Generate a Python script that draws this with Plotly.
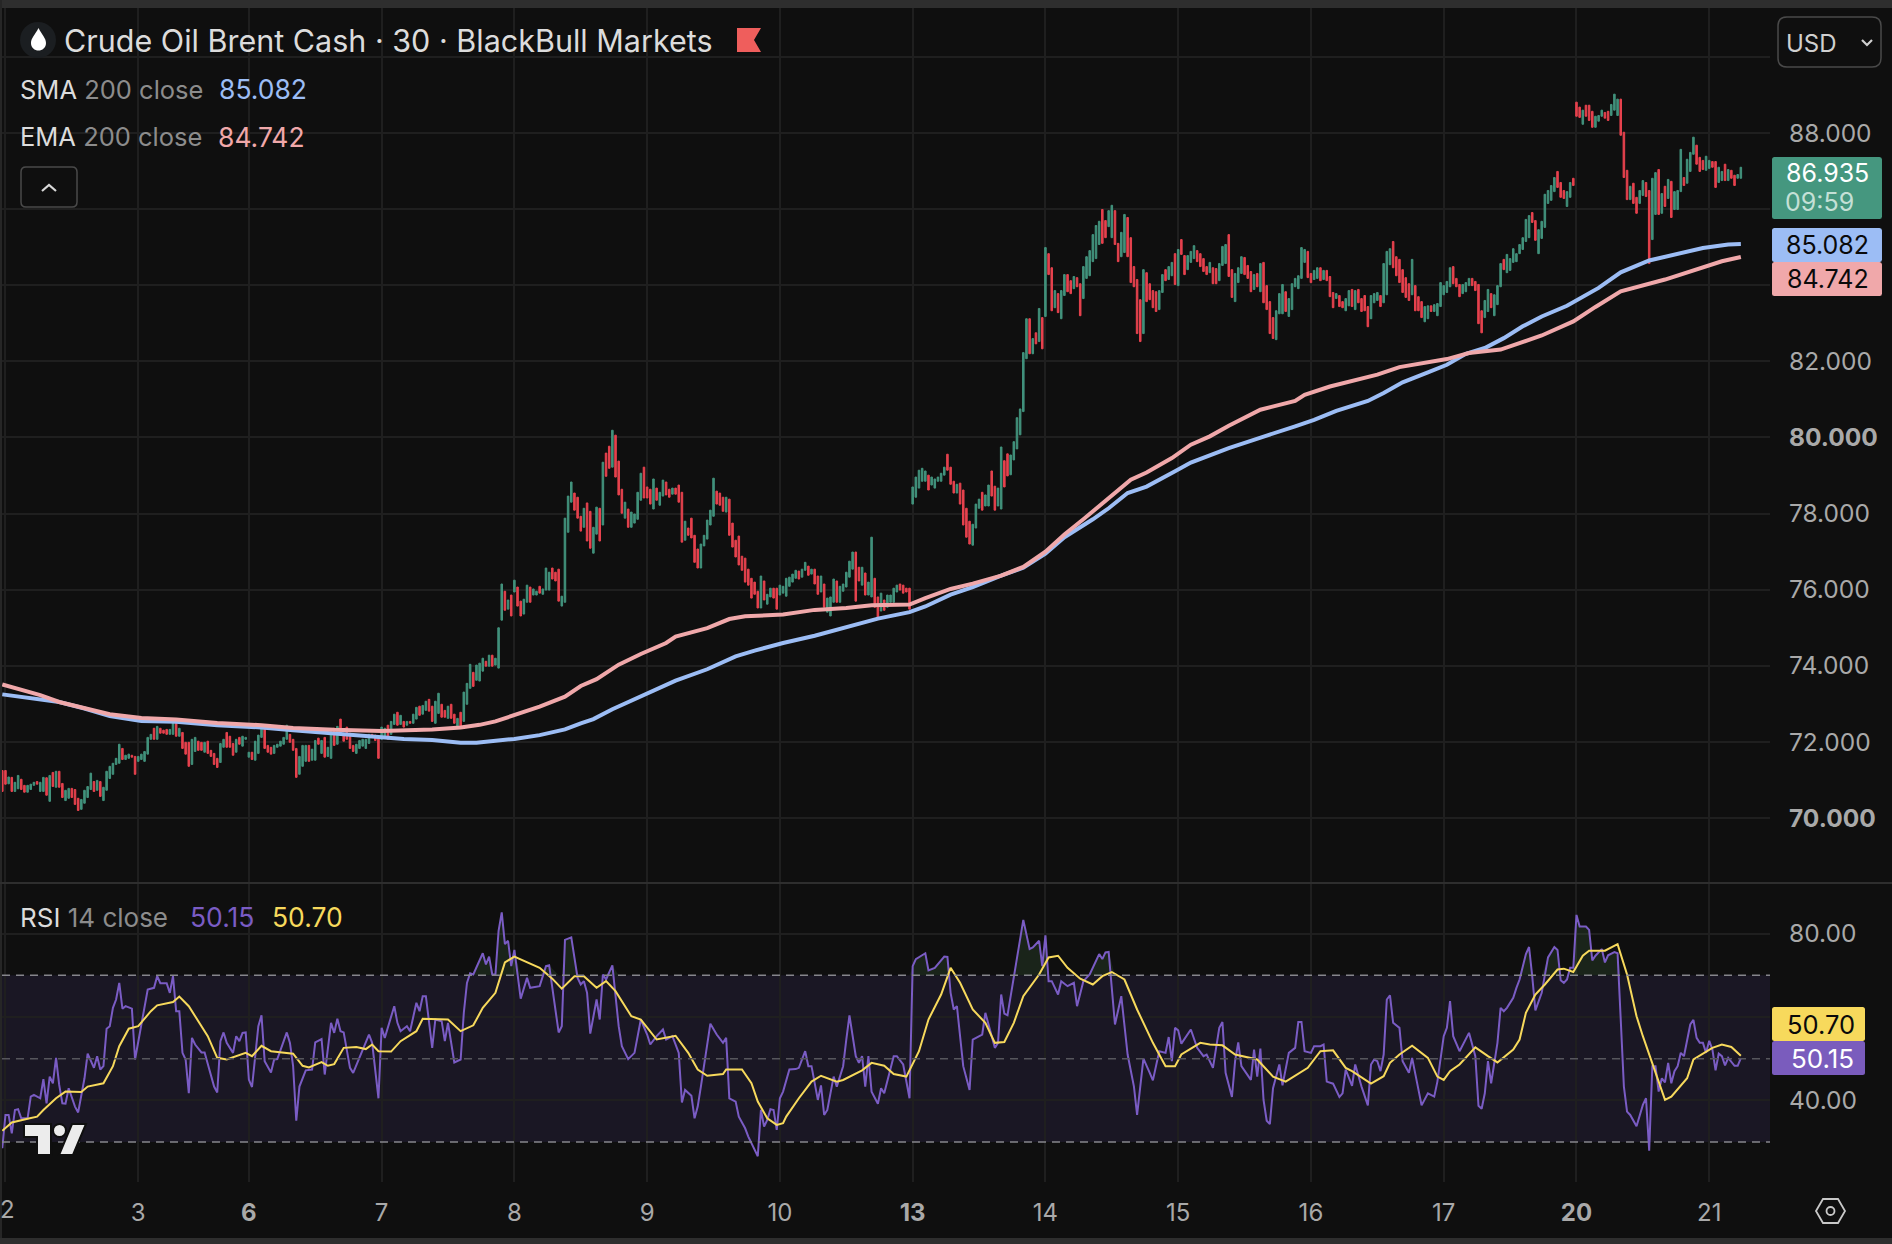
import plotly.graph_objects as go

# 30-minute Brent bars, oldest first: bar high, bar low and direction (g = up, r = down)
bar_high = [
 71.25,71.25,71.08,71.07,70.94,71.12,71.02,70.86,70.86,70.89,
 70.94,70.96,70.94,71.07,71.06,71.12,71.20,71.23,71.23,70.91,
 70.73,70.78,70.78,70.75,70.52,70.49,70.73,70.83,71.18,70.96,
 70.99,70.96,70.81,71.23,71.36,71.44,71.57,71.94,71.83,71.65,
 71.68,71.65,71.62,71.62,71.68,71.75,72.12,72.20,72.36,72.41,
 72.36,72.31,72.33,72.33,72.49,72.49,72.36,72.25,71.99,71.99,
 72.07,72.12,72.02,71.99,71.99,72.02,71.78,71.70,71.57,71.96,
 72.07,72.25,72.15,71.96,72.07,72.12,72.15,72.12,71.73,71.73,
 72.02,72.18,72.44,72.36,71.91,71.86,71.91,71.94,72.02,72.12,
 72.44,72.20,72.07,71.83,71.62,71.91,71.91,71.91,71.81,72.04,
 72.10,72.04,72.12,71.86,72.28,72.36,72.41,72.60,72.23,72.39,
 72.23,71.91,71.94,72.04,72.07,72.07,72.20,72.20,72.18,72.15,
 72.39,72.36,72.44,72.54,72.73,72.78,72.70,72.54,72.54,72.54,
 72.73,72.91,72.94,72.96,73.07,73.12,72.94,73.07,73.28,72.99,
 72.83,72.94,72.99,72.73,72.62,72.78,73.31,73.54,74.04,73.83,
 74.02,74.07,74.20,74.12,74.28,74.28,74.20,75.00,
 76.15,75.96,75.73,75.86,76.25,76.07,75.70,75.75,76.12,76.07,
 76.02,75.96,76.09,76.02,76.57,76.46,76.57,76.46,76.54,75.83,
 77.88,78.46,78.83,78.54,78.43,77.93,78.14,78.28,78.06,77.64,
 78.17,78.14,79.35,79.59,79.77,80.19,80.06,79.38,78.64,78.30,
 78.12,78.04,77.99,78.56,79.06,79.22,78.70,78.64,78.91,78.67,
 78.56,78.88,78.83,78.64,78.67,78.67,78.75,78.56,77.80,77.62,
 77.88,77.43,77.07,77.20,77.43,77.83,78.09,78.93,78.59,78.54,
 78.43,78.43,78.38,77.75,77.30,77.41,76.88,76.83,76.54,76.30,
 76.20,75.96,76.36,76.23,75.88,76.04,76.04,76.04,76.12,76.09,
 76.30,76.33,76.41,76.51,76.49,76.54,76.72,76.62,76.54,76.54,
 76.36,76.36,76.15,75.78,75.81,76.28,76.23,76.09,76.15,76.46,
 76.75,76.99,76.99,76.59,76.59,76.44,76.20,77.38,76.30,75.81,
 75.91,75.73,75.86,75.86,76.04,76.12,76.15,76.12,76.04,76.04,
 78.70,78.96,79.14,79.19,79.12,79.01,78.96,78.91,78.96,79.06,
 79.22,79.56,79.22,78.85,78.77,78.80,78.62,78.14,77.80,77.72,
 78.25,78.38,78.56,78.49,78.75,79.12,78.72,78.67,
 79.75,79.39,79.57,79.54,79.89,80.52,80.75,82.23,83.12,83.12,
 82.60,82.75,83.39,83.15,
 84.99,84.83,84.46,83.86,83.78,83.86,84.28,84.28,84.12,84.23,
 84.20,84.04,84.49,84.75,84.91,85.33,85.57,85.68,85.99,85.70,
 85.96,86.10,85.96,85.10,85.39,85.86,85.78,85.25,84.49,84.15,
 83.62,84.41,84.33,84.04,83.86,83.83,83.86,84.28,84.41,84.49,
 84.60,84.83,84.94,85.20,84.78,84.78,84.89,85.04,84.91,84.83,
 84.70,84.49,84.60,84.46,84.44,84.57,85.02,85.07,85.33,84.41,
 84.31,84.46,84.75,84.73,84.52,84.36,84.28,84.31,84.57,84.60,
 83.99,83.57,83.15,83.33,83.78,84.02,83.83,83.65,84.04,84.18,
 84.25,84.99,84.94,84.89,84.31,84.39,84.46,84.46,84.39,84.39,
 84.23,83.81,83.78,83.73,83.57,83.65,83.86,83.89,83.86,83.89,
 83.65,83.73,83.44,83.73,83.78,83.81,83.73,84.57,84.89,84.96,
 85.15,84.75,84.68,
 84.41,84.20,84.04,84.68,83.99,83.70,83.57,83.44,83.46,83.46,
 83.49,83.52,84.07,83.99,84.10,84.46,84.49,84.18,84.02,84.02,
 84.07,84.18,84.18,84.10,84.02,83.33,83.60,83.89,83.78,83.75,
 83.99,84.57,84.68,84.81,84.70,84.96,
 84.83,85.07,85.25,85.73,85.83,85.91,85.70,85.46,85.68,86.39,
 86.49,86.62,86.83,86.99,86.70,86.49,86.46,86.70,86.81,
 88.81,88.68,88.60,88.73,88.73,88.57,88.44,88.46,88.60,88.54,
 88.57,88.75,89.02,88.89,88.89,88.02,87.02,86.60,86.68,86.31,
 86.49,86.75,86.70,86.49,86.81,86.96,87.04,86.41,86.60,86.78,
 86.73,86.46,86.49,87.57,86.83,87.31,87.49,87.89,87.68,87.36,
 87.28,87.39,87.28,87.25,87.25,87.10,86.99,87.18,87.04,87.02,
 86.89,86.91,87.10,
]
bar_low = [
 70.70,70.89,70.90,70.70,70.70,70.77,70.75,70.68,70.68,70.75,
 70.86,70.89,70.70,70.70,70.60,70.44,70.83,70.81,70.81,70.54,
 70.46,70.52,70.54,70.36,70.20,70.23,70.39,70.54,70.75,70.70,
 70.73,70.57,70.46,70.73,71.04,71.15,71.41,71.44,71.54,71.54,
 71.57,71.60,71.15,71.49,71.54,71.49,71.68,72.07,72.07,72.07,
 72.23,72.23,72.20,72.20,72.20,72.15,72.15,71.83,71.68,71.36,
 71.41,71.75,71.78,71.78,71.73,71.70,71.62,71.41,71.33,71.46,
 71.86,71.86,71.86,71.65,71.73,71.94,71.89,72.07,71.60,71.54,
 71.52,71.70,72.12,71.83,71.73,71.68,71.70,71.86,71.89,71.94,
 72.07,71.99,71.78,71.07,71.15,71.36,71.49,71.49,71.52,71.52,
 71.94,71.70,71.60,71.62,71.57,71.91,71.94,72.20,72.02,72.07,
 71.83,71.75,71.70,71.83,71.89,71.83,71.96,72.12,72.04,71.57,
 72.07,72.15,72.07,72.20,72.46,72.44,72.46,72.39,72.44,72.49,
 72.49,72.60,72.70,72.73,72.83,72.81,72.54,72.49,72.75,72.65,
 72.65,72.62,72.62,72.49,72.41,72.41,72.54,72.99,73.41,73.46,
 73.62,73.60,73.86,73.99,73.99,73.99,74.02,73.94,
 75.20,75.46,75.49,75.31,75.94,75.57,75.31,75.36,75.67,75.67,
 75.86,75.86,75.91,75.88,75.99,75.99,76.28,76.23,75.70,75.57,
 75.67,77.51,78.30,78.09,77.88,77.54,77.64,77.28,77.09,76.96,
 77.46,77.28,77.70,78.98,79.19,79.22,78.96,78.49,78.01,77.88,
 77.64,77.64,77.75,77.85,78.35,78.41,78.41,78.25,78.12,78.35,
 78.22,78.46,78.49,78.43,78.51,78.51,78.30,77.25,77.30,77.43,
 77.36,76.72,76.57,76.57,77.15,77.33,77.70,77.93,78.25,78.22,
 78.06,78.04,77.43,77.12,76.86,76.65,76.51,76.20,76.12,75.78,
 75.88,75.52,75.52,75.73,75.62,75.81,75.78,75.49,75.86,75.91,
 75.83,76.09,76.20,76.30,76.28,76.33,76.51,76.38,76.41,76.15,
 75.88,75.94,75.54,75.41,75.31,75.67,75.67,75.67,75.96,76.07,
 76.33,76.54,75.70,76.23,76.12,75.86,75.86,75.81,75.54,75.23,
 75.44,75.46,75.54,75.67,75.67,75.94,75.99,75.91,75.94,75.49,
 78.25,78.43,78.67,78.85,78.85,78.62,78.75,78.67,78.85,78.85,
 79.01,79.14,78.77,78.54,78.54,78.25,77.70,77.38,77.20,77.17,
 77.62,78.14,78.09,78.20,78.20,78.46,78.09,78.20,
 78.12,78.70,78.99,79.02,79.41,79.70,80.07,80.68,82.07,82.20,
 82.20,82.46,82.52,82.33,
 83.18,84.28,83.33,83.41,83.28,83.12,83.73,83.83,83.78,83.91,
 83.96,83.20,83.65,84.18,84.25,84.62,84.70,85.07,85.10,85.25,
 85.54,85.25,85.07,84.62,84.75,84.86,84.75,84.07,83.96,82.73,
 82.52,82.73,83.57,83.62,83.41,83.31,83.36,83.81,84.12,84.15,
 84.25,84.02,83.99,84.81,84.28,84.41,84.60,84.70,84.62,84.49,
 84.36,84.28,84.33,84.04,84.04,84.12,84.52,84.57,84.23,83.68,
 83.57,84.07,84.31,84.28,84.18,83.83,83.89,83.96,83.83,83.54,
 83.36,82.73,82.60,82.57,83.25,83.25,83.31,83.18,83.36,83.96,
 83.91,84.18,84.60,84.20,84.07,84.15,84.18,84.12,84.15,84.12,
 83.70,83.41,83.65,83.44,83.41,83.33,83.46,83.44,83.36,83.54,
 83.31,83.33,82.91,83.12,83.54,83.60,83.44,83.54,83.75,84.54,
 84.46,84.25,84.07,
 83.81,83.68,83.60,83.75,83.33,83.33,83.15,83.04,83.12,83.31,
 83.31,83.20,83.44,83.75,83.81,83.96,84.04,83.96,83.70,83.78,
 83.83,83.99,83.99,83.86,82.99,82.75,83.15,83.31,83.41,83.20,
 83.49,83.96,84.41,84.33,84.39,84.60,
 84.62,84.83,84.94,85.15,85.25,85.65,85.18,84.83,85.23,85.52,
 86.15,86.23,86.46,86.57,86.31,86.28,86.07,86.31,86.62,
 88.44,88.41,88.23,88.44,88.33,88.15,88.15,88.31,88.44,88.39,
 88.33,88.46,88.60,88.46,87.94,86.83,86.25,86.25,86.15,85.89,
 86.15,86.36,86.33,84.57,85.20,85.86,85.86,85.89,86.07,86.28,
 85.78,85.99,85.99,86.46,86.62,86.68,86.99,87.44,87.18,86.99,
 87.04,87.02,87.07,87.10,86.57,86.70,86.75,86.75,86.75,86.81,
 86.62,86.81,86.81,
]
bar_dir = "".join([
 "rrgrggrrgg","grggrgrgrr","ggrrrggggr","grggggggrg","grrgggggrg",
 "rrrggrgrrr","ggrrgrrrrg","grrrgrgggr","gggrrrgggg","grrrgggrgg",
 "rgrggrgrrr","rrgggggrrr","ggrggrgrgr","ggrggrrggr","rgrrgrgggr","gggrgrgg",
 "grgrgrrggr","ggrgggrrrg","gggrrrgrrg","grgrrgrrrg","rggggrrrgr",
 "ggrrgrrrgr","rrrgggggrr","rgrrrrrrrr","rrgrggrrgg","ggggrggrgr",
 "rgrgggrggg","ggrrgrggrr","grggggrrrr","gggggrgggg","grrrgrrrrg","ggrggrrg",
 "grrggggggr","grgr",
 "grrgrggrrg","rrggggggrr","ggrrggrrrr","rgrrrrggrg","grgrrgggrr",
 "rrgrrgggrr","gggrrrgrgr","rrrgggrggg","gggrrggrgr","rrgrrggrgr",
 "rrrgggrggg","rrr",
 "rrrgrrrggr","ggggggrrrg","ggrrrrggrg","ggrggg",
 "gggggrrggg","gggrrrggr",
 "rrgrrrgggr","rgggrrrgrr","ggrrggrgrg","rgggrgggrr","rggrrggrgr","rgg",
])

# Trading-day boundaries on the time axis: bar number, label, bold for week starts
tick_bars = [1, 43, 78, 120, 162, 204, 246, 288, 330, 372, 414, 456, 498, 540]
tick_days = ["", "3", "<b>6</b>", "7", "8", "9", "10", "<b>13</b>", "14", "15", "16", "17", "<b>20</b>", "21"]

# Price scale and the labelled levels on it
price_levels = [70, 72, 74, 76, 78, 80, 82, 84, 86, 88, 90]
price_labels = ["<b>70.000</b>", "72.000", "74.000", "76.000", "78.000", "<b>80.000</b>", "82.000", "", "", "88.000", ""]

# Moving averages of the close: bar number and price
sma_bar = [0,10,18,26,34,44,55,68,82,92,105,120,127,136,145,150,156,162,170,178,183,187,193,199,207,213,223,232,238,247,257,270,277,287,292,300,307,316,
           323,330,336,345,350,356,362,371,376,388,395,400,409,415,422,432,437,443,451,457,463,469,475,481,487,495,505,512,521,530,538,546,550]
sma_val = [73.25,73.14,73.05,72.88,72.68,72.55,72.53,72.44,72.38,72.31,72.22,72.11,72.08,72.05,71.98,71.98,72.02,72.08,72.18,72.33,72.49,72.60,72.86,73.08,73.37,73.61,73.91,74.25,74.40,74.60,74.79,75.08,75.24,75.41,75.56,75.87,76.07,76.37,
           76.58,76.95,77.38,77.85,78.14,78.54,78.71,79.11,79.34,79.72,79.92,80.05,80.29,80.46,80.70,80.96,81.17,81.45,81.71,81.91,82.20,82.35,82.61,82.92,83.18,83.46,83.93,84.34,84.65,84.83,84.98,85.07,85.082]
ema_bar = [0,6,12,18,26,34,44,55,68,82,92,105,120,127,136,145,151,156,162,170,178,183,188,195,202,210,213,223,230,235,247,257,267,275,287,292,300,307,316,
           323,330,336,342,349,357,362,370,376,382,388,398,409,412,420,435,442,449,457,464,474,487,497,504,512,526,535,544,550]
ema_val = [73.51,73.36,73.23,73.05,72.88,72.73,72.63,72.59,72.50,72.44,72.37,72.32,72.29,72.30,72.33,72.38,72.45,72.54,72.71,72.93,73.19,73.47,73.65,74.03,74.31,74.60,74.77,74.99,75.23,75.30,75.35,75.47,75.52,75.59,75.61,75.78,76.02,76.16,76.37,
           76.60,77.00,77.45,77.85,78.32,78.89,79.08,79.46,79.81,80.03,80.31,80.73,80.96,81.12,81.34,81.65,81.85,81.96,82.06,82.22,82.31,82.68,83.05,83.43,83.84,84.15,84.39,84.63,84.742]

# RSI(14): turning points of the line, bar number and value
rsi_bar = [
 0,1,2,3,4,5,6,8,9,10,12,13,14,15,16,17,18,19,20,21,23,24,26,27,29,30,31,32,33,34,35,36,37,38,39,41,42,44,46,48,49,50,52,53,54,55,56,57,58,59,
 60,61,63,64,66,67,68,69,70,71,72,73,74,75,76,77,78,79,81,82,83,85,86,87,90,91,92,93,94,96,98,99,101,102,104,105,106,107,108,110,111,116,117,119,120,121,124,125,126,128,
 129,131,132,133,134,136,137,139,140,141,143,145,146,147,148,149,152,153,154,155,156,157,158,159,160,161,162,164,166,167,170,172,173,176,177,178,180,182,183,184,185,186,188,189,190,191,193,195,196,198,
 200,202,204,205,207,209,210,212,214,215,216,218,219,220,221,222,224,226,228,229,230,232,233,235,236,239,240,241,242,243,244,245,246,247,248,249,251,252,254,255,256,258,259,260,261,263,264,266,267,268,
 270,271,272,273,274,275,277,278,279,282,283,285,287,288,289,292,293,295,298,299,300,301,302,304,306,307,310,311,314,315,316,317,318,319,320,321,323,325,326,328,329,330,331,332,334,335,337,339,340,342,
 344,347,348,349,350,352,354,356,358,359,361,363,364,366,368,369,370,371,372,373,376,378,380,381,383,385,386,387,389,390,391,392,395,396,397,398,399,400,401,402,404,405,407,409,410,411,412,414,415,417,
 418,419,421,423,424,425,427,428,430,432,433,434,435,436,437,438,439,440,442,443,445,446,448,449,451,453,454,456,457,458,459,461,464,466,467,468,469,470,471,473,474,475,476,478,479,480,482,483,484,485,
 487,489,491,492,493,494,495,496,497,498,499,501,502,503,504,506,507,508,510,511,512,513,514,515,517,519,520,521,522,523,524,525,526,527,528,529,530,531,532,534,535,536,537,538,539,540,541,542,543,544,545,546,548,549,550,
]
rsi_val = [
 28.5,36.5,36.5,32.1,37.7,37.9,35.7,35.7,40.9,41.3,40.5,45.1,39.3,45.7,44.1,50.2,43.7,39.3,39.2,42.9,38.5,37.1,45.3,51.2,47.8,50.6,47.4,48.2,57.2,57.8,62.2,64.2,68.2,62.0,62.6,62.0,49.8,58.6,66.6,67.0,69.8,68.1,68.1,65.8,69.8,61.4,61.4,51.4,49.8,41.7,
 55.0,53.4,51.5,51.5,45.7,43.3,41.9,54.2,56.3,53.8,52.6,51.4,55.4,54.2,56.2,56.3,45.0,43.2,57.8,60.4,49.4,46.7,49.8,49.9,56.3,53.8,48.2,35.1,43.3,47.2,47.4,53.9,54.7,46.2,58.6,56.2,59.6,56.6,56.3,47.8,46.6,55.8,53.8,40.5,57.4,55.0,62.6,58.6,56.6,57.8,
 56.6,63.4,61.4,65.0,65.0,52.6,59.4,59.0,54.2,58.6,49.1,49.8,61.0,68.2,70.5,70.2,75.3,72.6,74.5,70.2,70.2,80.7,85.1,77.5,78.3,72.2,76.1,64.4,69.4,67.0,67.4,72.2,72.4,56.3,57.8,78.5,79.1,69.4,67.8,68.6,65.8,56.0,64.2,59.4,70.2,69.0,72.4,57.8,53.0,49.9,
 51.4,59.4,55.8,53.4,55.4,57.0,54.6,55.4,51.4,39.5,42.5,41.1,35.7,38.5,43.3,48.2,58.4,55.8,53.8,55.0,40.5,39.7,36.1,33.3,31.3,26.6,37.7,33.7,35.3,37.9,37.7,32.9,40.5,42.1,44.5,47.4,47.5,47.8,51.8,48.2,48.2,40.1,43.6,36.5,37.7,45.7,43.3,48.2,54.6,60.4,
 50.6,49.0,50.6,43.3,50.6,42.1,39.2,42.9,41.7,50.6,50.6,48.6,40.5,72.2,73.9,75.3,71.2,71.8,74.5,74.4,65.8,61.8,62.6,48.2,42.5,54.6,55.8,61.0,52.6,53.8,65.4,60.8,60.4,65.0,69.0,74.7,83.3,76.3,76.7,78.3,72.2,79.6,68.6,68.6,65.4,68.6,67.4,68.2,62.6,68.6,
 70.2,75.1,73.9,75.5,75.6,58.2,65.0,51.0,43.3,36.5,50.0,46.6,44.8,51.8,51.4,55.2,49.4,57.4,56.8,53.6,57.0,52.6,50.6,51.0,47.8,57.4,58.8,46.6,40.8,49.4,53.9,48.2,44.9,52.2,45.7,52.4,40.1,35.1,34.3,42.9,48.6,43.6,51.4,52.6,58.8,58.8,51.8,51.4,53.0,53.0,
 53.4,44.5,44.0,40.8,41.7,47.4,43.5,48.6,43.3,38.8,48.6,49.8,49.4,47.0,51.0,64.2,65.2,58.6,57.4,49.4,46.6,50.2,42.1,38.8,41.7,40.9,44.5,55.4,57.4,63.8,55.4,51.8,56.2,50.6,38.7,38.0,41.7,49.4,44.1,53.8,62.2,61.4,62.2,64.6,67.0,69.0,75.1,76.8,69.8,61.6,
 65.8,74.3,76.8,76.1,68.8,68.2,69.0,71.8,71.8,84.5,81.7,81.7,80.9,73.6,74.7,76.3,73.1,74.8,75.6,75.3,59.4,43.3,37.3,36.5,33.8,38.9,40.5,27.9,48.2,48.2,42.1,45.3,44.3,49.0,44.1,47.0,48.2,51.4,50.6,58.2,59.3,55.0,53.8,53.8,51.4,54.3,52.2,47.2,51.2,50.6,48.4,50.2,48.3,48.3,50.15,
]

# 14-bar average of the RSI: turning points of the line
rsima_bar = [
 0,3,8,11,13,17,20,25,27,32,35,37,40,43,47,49,54,56,59,62,65,68,71,77,79,82,85,92,95,97,101,103,105,108,112,115,117,119,123,126,131,133,141,145,149,152,156,159,162,170,
 174,177,181,184,188,191,194,199,202,207,213,217,220,223,228,229,234,237,239,242,245,247,248,252,256,259,264,266,269,272,275,279,282,286,290,293,297,300,303,307,311,314,317,320,323,328,331,334,337,341,
 345,348,351,355,359,364,368,371,373,379,382,386,390,397,402,406,413,417,421,425,427,433,437,439,442,446,451,454,456,458,461,466,470,473,478,480,482,485,488,492,494,497,500,502,507,511,514,517,519,523,526,528,531,533,535,541,544,547,550,
]
rsima_val = [
 32.7,34.7,35.6,36.1,37.7,40.5,42.1,42.0,43.3,44.1,48.2,53.0,57.2,57.8,61.4,62.8,63.6,64.9,62.6,59.0,55.4,50.2,49.8,51.4,50.6,53.1,51.8,51.2,48.3,47.9,49.2,48.3,48.7,52.6,52.8,52.3,53.4,51.8,51.7,54.2,56.6,59.6,59.4,56.6,58.0,62.2,65.8,73.1,74.5,71.8,
 69.2,66.8,69.8,69.8,67.0,68.6,66.2,60.2,59.4,54.6,55.5,51.4,47.4,45.9,46.3,47.4,47.4,44.1,39.7,35.7,34.1,34.5,36.1,40.5,44.5,45.9,44.5,44.9,46.1,47.2,49.0,48.3,46.3,45.7,51.8,59.4,65.4,71.8,68.2,61.8,58.6,53.8,54.0,58.6,65.0,70.2,74.3,74.7,71.8,69.2,
 67.8,69.8,70.8,69.0,61.8,53.8,48.2,48.2,51.0,53.8,53.4,53.2,51.0,49.8,45.7,44.5,47.8,51.8,52.0,47.8,47.0,44.0,45.8,49.0,51.0,53.1,50.2,45.7,44.9,47.0,48.6,52.7,50.6,49.1,52.2,54.6,61.0,65.4,67.8,71.4,71.6,70.8,74.7,75.9,75.9,77.5,70.2,60.2,55.4,46.6,40.1,40.9,43.7,45.3,49.8,52.6,53.4,52.8,50.70,
]

WIDTH, HEIGHT = 1892, 1244
BG = "#0f0f0f"
FRAME = "#2e2e2e"
GRID = "#1f1f1f"
UP = "#42927c"
DOWN = "#e7424e"
SMA = "#9cbdf5"
EMA = "#f0a8aa"
RSI = "#7a5cc4"
RSI_MA = "#f7d95c"
TEXT = "#dcdcdc"
MUTED = "#8c8c8c"
AXIS_TEXT = "#a9a9a9"
FONT = "Inter"

PANE_LEFT, PANE_RIGHT = 2, 1770
BAR_STEP = 3.161
FIRST_BAR_PX = 2.3


def fx(px):
    return px / WIDTH


def fy(px):
    return 1 - px / HEIGHT


def outline(points, close=True):
    path = "M" + " L".join(f"{fx(x):.5f} {fy(y):.5f}" for x, y in points)
    return path + (" Z" if close else "")


def rounded(x0, y0, x1, y1, radius):
    pt = lambda x, y: f"{fx(x):.5f} {fy(y):.5f}"
    return (f"M{pt(x0 + radius, y0)} L{pt(x1 - radius, y0)} Q{pt(x1, y0)} {pt(x1, y0 + radius)} "
            f"L{pt(x1, y1 - radius)} Q{pt(x1, y1)} {pt(x1 - radius, y1)} "
            f"L{pt(x0 + radius, y1)} Q{pt(x0, y1)} {pt(x0, y1 - radius)} "
            f"L{pt(x0, y0 + radius)} Q{pt(x0, y0)} {pt(x0 + radius, y0)} Z")


def paper_rect(x0, y0, x1, y1, color):
    return dict(type="rect", xref="paper", yref="paper", x0=fx(x0), x1=fx(x1),
                y0=fy(y0), y1=fy(y1), fillcolor=color, line_width=0, layer="below")


def label(x, y, text, color=TEXT, size=25.5, anchor="left"):
    return dict(xref="paper", yref="paper", x=fx(x), y=fy(y), text=text, showarrow=False,
                xanchor=anchor, yanchor="middle", align=anchor,
                font=dict(family=FONT, size=size, color=color))


bar_x = list(range(len(bar_high)))
bar_open = [lo if d == "g" else hi for hi, lo, d in zip(bar_high, bar_low, bar_dir)]
bar_close = [hi if d == "g" else lo for hi, lo, d in zip(bar_high, bar_low, bar_dir)]

fig = go.Figure()
fig.add_trace(go.Candlestick(
    x=bar_x, open=bar_open, high=bar_high, low=bar_low, close=bar_close,
    xaxis="x", yaxis="y", whiskerwidth=0,
    increasing=dict(line=dict(color=UP, width=1), fillcolor=UP),
    decreasing=dict(line=dict(color=DOWN, width=1), fillcolor=DOWN),
    showlegend=False, name="Brent",
))
fig.add_trace(go.Scatter(x=sma_bar, y=sma_val, mode="lines", name="SMA 200",
                         line=dict(color=SMA, width=4), xaxis="x", yaxis="y", showlegend=False))
fig.add_trace(go.Scatter(x=ema_bar, y=ema_val, mode="lines", name="EMA 200",
                         line=dict(color=EMA, width=4), xaxis="x", yaxis="y", showlegend=False))

# Shading of the RSI above the overbought level
fig.add_trace(go.Scatter(x=rsi_bar, y=[70] * len(rsi_bar), mode="lines", line=dict(width=0),
                         xaxis="x2", yaxis="y2", hoverinfo="skip", showlegend=False))
fig.add_trace(go.Scatter(x=rsi_bar, y=[max(v, 70) for v in rsi_val], mode="lines", line=dict(width=0),
                         fill="tonexty", fillcolor="rgba(70,120,70,0.20)",
                         xaxis="x2", yaxis="y2", hoverinfo="skip", showlegend=False))
fig.add_trace(go.Scatter(x=rsi_bar, y=rsi_val, mode="lines", name="RSI 14",
                         line=dict(color=RSI, width=2), xaxis="x2", yaxis="y2", showlegend=False))
fig.add_trace(go.Scatter(x=rsima_bar, y=rsima_val, mode="lines", name="RSI average",
                         line=dict(color=RSI_MA, width=2), xaxis="x2", yaxis="y2", showlegend=False))

x_range = [(PANE_LEFT - FIRST_BAR_PX) / BAR_STEP, (PANE_RIGHT - FIRST_BAR_PX) / BAR_STEP]
x_domain = [fx(PANE_LEFT), fx(PANE_RIGHT)]

shapes = [
    # Window frame
    paper_rect(0, 0, WIDTH, 8, FRAME),
    paper_rect(0, 0, 2, HEIGHT, "#262626"),
    paper_rect(0, 882, WIDTH, 884, FRAME),
    paper_rect(0, 1238, WIDTH, HEIGHT, FRAME),
    # RSI band and its levels
    dict(type="rect", xref="x2", yref="y2", x0=x_range[0], x1=x_range[1], y0=30, y1=70,
         fillcolor="#1a1724", line_width=0, layer="below"),
]
for level, color in [(70, "#86868c"), (50, "#56565c"), (30, "#86868c")]:
    shapes.append(dict(type="line", xref="x2", yref="y2", x0=x_range[0], x1=x_range[1], y0=level, y1=level,
                       line=dict(color=color, width=1.5, dash="8px,6px"), layer="above"))

# Value badges on the scale
badges = [
    (157, 219, 1882, "#45977f"), (228, 262, 1882, SMA), (262, 296, 1882, EMA),
    (1007, 1041, 1865, RSI_MA), (1041, 1075, 1865, "#7a5cbd"),
]
for top, bottom, right, color in badges:
    shapes.append(dict(type="path", xref="paper", yref="paper", path=rounded(1772, top, right, bottom, 2.5),
                       fillcolor=color, line_width=0, layer="above"))

# Currency selector and collapse button
shapes.append(dict(type="path", xref="paper", yref="paper", path=rounded(1778, 17, 1881, 67, 9),
                   fillcolor="rgba(0,0,0,0)", line=dict(color="#4a4a4a", width=1.5), layer="above"))
shapes.append(dict(type="path", xref="paper", yref="paper",
                   path=outline([(1862, 40), (1867, 45), (1872, 40)], close=False),
                   line=dict(color="#d0d0d0", width=2.2), layer="above"))
shapes.append(dict(type="path", xref="paper", yref="paper", path=rounded(21, 167, 77, 207, 5),
                   fillcolor="rgba(0,0,0,0)", line=dict(color="#4a4a4a", width=1.5), layer="above"))
shapes.append(dict(type="path", xref="paper", yref="paper",
                   path=outline([(42, 191), (49, 185), (56, 191)], close=False),
                   line=dict(color="#d8d8d8", width=2.2), layer="above"))

# Symbol icon and status flag
shapes.append(dict(type="circle", xref="paper", yref="paper", x0=fx(20), x1=fx(56), y0=fy(22), y1=fy(58),
                   fillcolor="#1b1e21", line_width=0, layer="above"))
shapes.append(dict(type="path", xref="paper", yref="paper",
                   path=(f"M{fx(38.5):.5f} {fy(28):.5f} C{fx(35):.5f} {fy(35):.5f} {fx(31):.5f} {fy(38):.5f} {fx(31):.5f} {fy(43):.5f} "
                         f"C{fx(31):.5f} {fy(53):.5f} {fx(46):.5f} {fy(53):.5f} {fx(46):.5f} {fy(43):.5f} "
                         f"C{fx(46):.5f} {fy(38):.5f} {fx(42):.5f} {fy(35):.5f} {fx(38.5):.5f} {fy(28):.5f} Z"),
                   fillcolor="#ffffff", line_width=0, layer="above"))
shapes.append(dict(type="path", xref="paper", yref="paper",
                   path=outline([(737, 28), (761, 28), (754, 40), (761, 52), (737, 52)]),
                   fillcolor="#ef5e5c", line_width=0, layer="above"))

# Settings hexagon
shapes.append(dict(type="path", xref="paper", yref="paper",
                   path=outline([(1816, 1211), (1823, 1199), (1838, 1199), (1845, 1211), (1838, 1223), (1823, 1223)]),
                   fillcolor="rgba(0,0,0,0)", line=dict(color="#c8c8c8", width=1.8), layer="above"))
shapes.append(dict(type="circle", xref="paper", yref="paper", x0=fx(1826.5), x1=fx(1834.5), y0=fy(1207), y1=fy(1215),
                   fillcolor="rgba(0,0,0,0)", line=dict(color="#c8c8c8", width=1.8), layer="above"))

# Publisher mark in the corner of the RSI pane
mark = dict(xref="paper", yref="paper", fillcolor="#ececec", line=dict(color="#0f0f0f", width=2), layer="above")
shapes.append(dict(type="path",
                   path=outline([(24, 1124), (51, 1124), (51, 1155), (37, 1155), (37, 1137), (24, 1137)]), **mark))
shapes.append(dict(type="path",
                   path=outline([(72, 1124), (86, 1124), (73, 1155), (59, 1155)]), **mark))
shapes.append(dict(type="circle", x0=fx(53), x1=fx(66), y0=fy(1124), y1=fy(1137), **mark))

annotations = [
    label(62, 41, "Crude Oil Brent Cash · 30 · BlackBull Markets", size=30.5),
    label(18, 89, f'SMA <span style="color:{MUTED}">200 close</span>'),
    label(217, 89, "85.082", color=SMA, size=26.5),
    label(18, 137, f'EMA <span style="color:{MUTED}">200 close</span>'),
    label(216, 137, "84.742", color=EMA, size=26.5),
    label(18, 917, f'RSI <span style="color:{MUTED}">14 close</span>', size=26),
    label(222, 917, "50.15", color=RSI, size=26.5, anchor="center"),
    label(307, 917, "50.70", color=RSI_MA, size=26.5, anchor="center"),
    label(1871, 173, "86.935", color="#ffffff", size=25, anchor="right"),
    label(1856, 202, "09:59", color="#c4e0d6", size=25, anchor="right"),
    label(1871, 245, "85.082", color="#0a0a0a", size=25, anchor="right"),
    label(1871, 279, "84.742", color="#0a0a0a", size=25, anchor="right"),
    label(1857, 1024, "50.70", color="#0a0a0a", size=25.5, anchor="right"),
    label(1822, 1058, "50.15", color="#ffffff", size=26, anchor="center"),
    label(1784, 43, "USD", color="#d0d0d0", size=24),
    # The first day label sits on the pane's left edge
    label(-2, 1209, "2", color=AXIS_TEXT, size=24),
]

fig.update_layout(
    width=WIDTH, height=HEIGHT, margin=dict(l=0, r=0, t=0, b=0, autoexpand=False),
    paper_bgcolor=BG, plot_bgcolor=BG, showlegend=False, hovermode=False,
    font=dict(family=FONT, color=AXIS_TEXT),
    shapes=shapes, annotations=annotations,
    xaxis=dict(domain=x_domain, range=x_range, anchor="y", rangeslider=dict(visible=False),
               tickvals=tick_bars, ticktext=[""] * len(tick_bars), showgrid=True, gridcolor=GRID, gridwidth=1.5,
               zeroline=False, showline=False, ticks=""),
    yaxis=dict(domain=[fy(882), fy(8)], range=[88 - (882 - 133) / 38.06, 88 + (133 - 8) / 38.06],
               anchor="x", side="right", tickvals=price_levels, ticktext=price_labels,
               showgrid=True, gridcolor=GRID, gridwidth=1.5, zeroline=False, showline=False,
               ticks="", ticklabelstandoff=18, tickfont=dict(family=FONT, size=24.5, color=AXIS_TEXT)),
    xaxis2=dict(domain=x_domain, range=x_range, anchor="y2", tickvals=tick_bars, ticktext=tick_days,
                showgrid=True, gridcolor=GRID, gridwidth=1.5, zeroline=False, showline=False,
                ticks="", ticklabelstandoff=14, tickangle=0, tickfont=dict(family=FONT, size=24, color=AXIS_TEXT)),
    yaxis2=dict(domain=[fy(1182), fy(884)], range=[30 - (1182 - 1142) / 4.17, 80 + (933.7 - 884) / 4.17],
                anchor="x2", side="right", tickvals=[40, 60, 80], ticktext=["40.00", "", "80.00"],
                showgrid=True, gridcolor=GRID, gridwidth=1.5, zeroline=False, showline=False,
                ticks="", ticklabelstandoff=18, tickfont=dict(family=FONT, size=24.5, color=AXIS_TEXT)),
)

fig.write_html("out.html", config=dict(displayModeBar=False))
